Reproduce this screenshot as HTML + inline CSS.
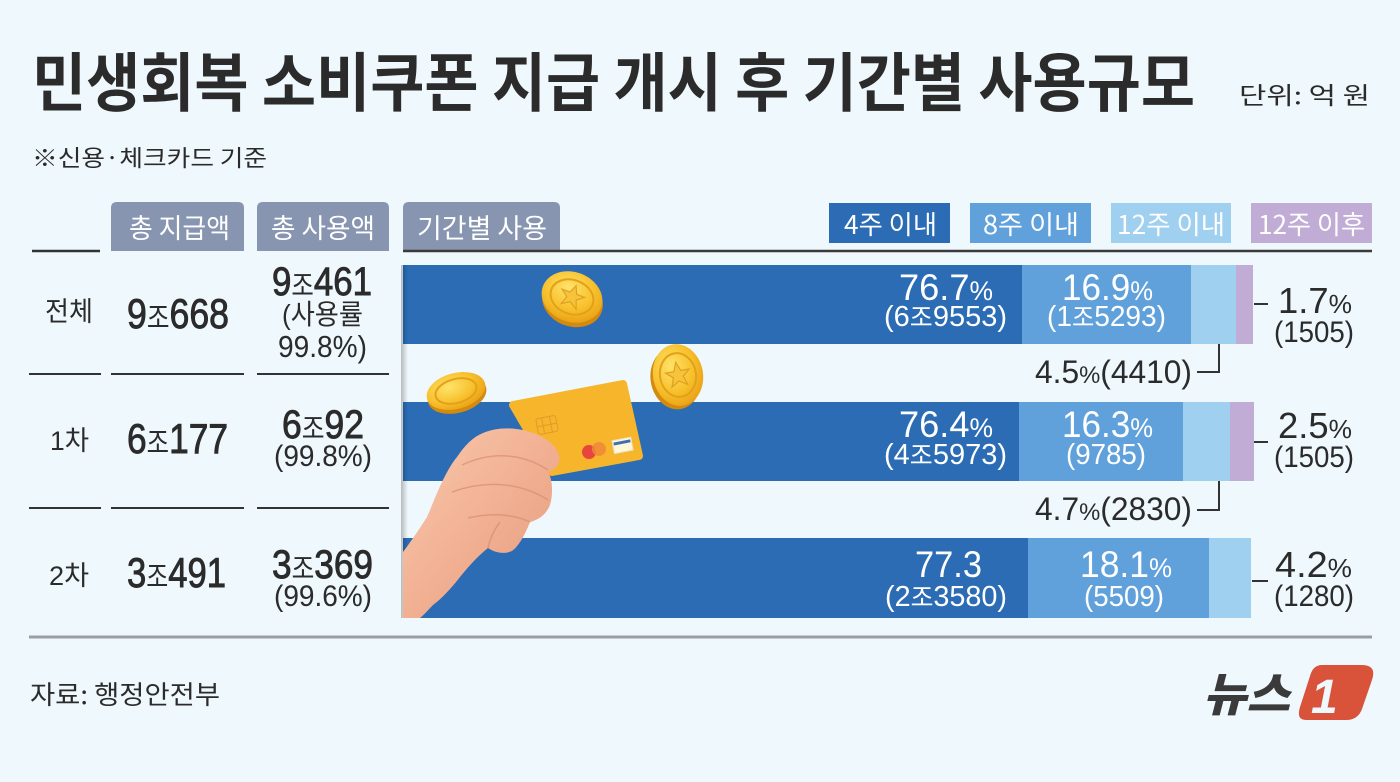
<!DOCTYPE html>
<html><head><meta charset="utf-8">
<style>
html,body{margin:0;padding:0;background:#eff8fd;}
svg{display:block;}
.k{font-family:"Noto Sans CJK KR","Liberation Sans",sans-serif;}
.n{font-family:"Liberation Sans","Noto Sans CJK KR",sans-serif;}
.m{stroke:#2b2b2b;stroke-width:0.9;}
</style></head>
<body>
<svg width="1400" height="782" viewBox="0 0 1400 782" xmlns="http://www.w3.org/2000/svg">
<defs>
<radialGradient id="gold" cx="40%" cy="35%" r="70%">
<stop offset="0" stop-color="#ffe36a"/><stop offset="0.6" stop-color="#f7c02c"/><stop offset="1" stop-color="#e9a014"/>
</radialGradient>
<linearGradient id="skin" x1="0" y1="0" x2="1" y2="1">
<stop offset="0" stop-color="#f8c9ad"/><stop offset="0.5" stop-color="#f2b093"/><stop offset="1" stop-color="#e39a7c"/>
</linearGradient>
<linearGradient id="shadow" x1="0" y1="0" x2="1" y2="0">
<stop offset="0" stop-color="#000" stop-opacity="0.25"/><stop offset="1" stop-color="#000" stop-opacity="0"/>
</linearGradient>
</defs>
<rect width="1400" height="782" fill="#eff8fd"/>

<!-- Title -->
<text class="k" x="32" y="106" font-size="64" font-weight="700" fill="#2b2b2b" textLength="1163" lengthAdjust="spacingAndGlyphs">민생회복 소비쿠폰 지급 개시 후 기간별 사용규모</text>
<text class="k" x="1239" y="104" font-size="24" fill="#2b2b2b" textLength="131" lengthAdjust="spacingAndGlyphs">단위: 억 원</text>
<text class="k" x="32" y="166" font-size="23" fill="#2b2b2b" textLength="235" lengthAdjust="spacingAndGlyphs">※신용·체크카드 기준</text>

<!-- Tabs -->
<path d="M111,251 L111,208 Q111,202 117,202 L238,202 Q244,202 244,208 L244,251 Z" fill="#8795b0"/>
<path d="M257,251 L257,208 Q257,202 263,202 L383,202 Q389,202 389,208 L389,251 Z" fill="#8795b0"/>
<path d="M403,251 L403,208 Q403,202 409,202 L554,202 Q560,202 560,208 L560,251 Z" fill="#8795b0"/>
<text class="k" x="129" y="238" font-size="27" fill="#fff" textLength="101" lengthAdjust="spacingAndGlyphs">총 지급액</text>
<text class="k" x="271" y="238" font-size="27" fill="#fff" textLength="104" lengthAdjust="spacingAndGlyphs">총 사용액</text>
<text class="k" x="417" y="238" font-size="27" fill="#fff" textLength="130" lengthAdjust="spacingAndGlyphs">기간별 사용</text>

<!-- Legend -->
<rect x="829" y="203" width="121" height="40" fill="#2b6cb5"/>
<rect x="970" y="203" width="121" height="40" fill="#60a1db"/>
<rect x="1111" y="203" width="120" height="40" fill="#a0d0f0"/>
<rect x="1251" y="203" width="121" height="40" fill="#c1acd5"/>
<text class="k" x="844" y="234" font-size="26" fill="#fff" textLength="93" lengthAdjust="spacingAndGlyphs">4주 이내</text>
<text class="k" x="983" y="234" font-size="26" fill="#fff" textLength="96" lengthAdjust="spacingAndGlyphs">8주 이내</text>
<text class="k" x="1117" y="234" font-size="26" fill="#fff" textLength="108" lengthAdjust="spacingAndGlyphs">12주 이내</text>
<text class="k" x="1258" y="234" font-size="26" fill="#fff" textLength="107" lengthAdjust="spacingAndGlyphs">12주 이후</text>

<!-- header lines -->
<line x1="32" y1="251" x2="100" y2="251" stroke="#333" stroke-width="2.5"/>
<line x1="403" y1="251" x2="1372" y2="251" stroke="#3a3a3a" stroke-width="2.5"/>

<!-- row separators -->
<g stroke="#333" stroke-width="2">
<line x1="29" y1="374" x2="101" y2="374"/><line x1="111" y1="374" x2="244" y2="374"/><line x1="257" y1="374" x2="389" y2="374"/>
<line x1="29" y1="508" x2="101" y2="508"/><line x1="111" y1="508" x2="244" y2="508"/><line x1="257" y1="508" x2="389" y2="508"/>
</g>
<line x1="29" y1="637" x2="1372" y2="637" stroke="#9a9ea5" stroke-width="3"/>

<!-- Left table -->
<g fill="#2b2b2b">
<text class="k" x="45" y="321" font-size="27" textLength="48" lengthAdjust="spacingAndGlyphs">전체</text>
<text class="n m" x="127" y="328" font-size="42" textLength="102" lengthAdjust="spacingAndGlyphs">9<tspan class="k" font-size="29" stroke-width="0">조</tspan>668</text>
<text class="n m" x="272" y="295" font-size="40" textLength="100" lengthAdjust="spacingAndGlyphs">9<tspan class="k" font-size="28" stroke-width="0">조</tspan>461</text>
<text class="n" x="282" y="324" font-size="28" textLength="81" lengthAdjust="spacingAndGlyphs">(사용률</text>
<text class="n" x="278" y="357" font-size="31" textLength="89" lengthAdjust="spacingAndGlyphs">99.8%)</text>

<text class="n" x="50" y="450" font-size="27" textLength="39" lengthAdjust="spacingAndGlyphs">1차</text>
<text class="n m" x="127" y="453" font-size="42" textLength="101" lengthAdjust="spacingAndGlyphs">6<tspan class="k" font-size="29" stroke-width="0">조</tspan>177</text>
<text class="n m" x="282" y="438" font-size="40" textLength="82" lengthAdjust="spacingAndGlyphs">6<tspan class="k" font-size="28" stroke-width="0">조</tspan>92</text>
<text class="n" x="274" y="466" font-size="30" textLength="98" lengthAdjust="spacingAndGlyphs">(99.8%)</text>

<text class="n" x="49" y="585" font-size="27" textLength="40" lengthAdjust="spacingAndGlyphs">2차</text>
<text class="n m" x="127" y="587" font-size="42" textLength="99" lengthAdjust="spacingAndGlyphs">3<tspan class="k" font-size="29" stroke-width="0">조</tspan>491</text>
<text class="n m" x="272" y="578" font-size="40" textLength="101" lengthAdjust="spacingAndGlyphs">3<tspan class="k" font-size="28" stroke-width="0">조</tspan>369</text>
<text class="n" x="274" y="606" font-size="30" textLength="98" lengthAdjust="spacingAndGlyphs">(99.6%)</text>
</g>

<!-- Bars -->
<rect x="403" y="265" width="619" height="79" fill="#2b6cb5"/>
<rect x="1022" y="265" width="169" height="79" fill="#60a1db"/>
<rect x="1191" y="265" width="45" height="79" fill="#a0d0f0"/>
<rect x="1236" y="265" width="17" height="79" fill="#c1acd5"/>

<rect x="403" y="402" width="616" height="79" fill="#2b6cb5"/>
<rect x="1019" y="402" width="164" height="79" fill="#60a1db"/>
<rect x="1183" y="402" width="47" height="79" fill="#a0d0f0"/>
<rect x="1230" y="402" width="24" height="79" fill="#c1acd5"/>

<rect x="403" y="538" width="625" height="80" fill="#2b6cb5"/>
<rect x="1028" y="538" width="181" height="80" fill="#60a1db"/>
<rect x="1209" y="538" width="42" height="80" fill="#a0d0f0"/>

<rect x="401" y="265" width="7" height="353" fill="url(#shadow)"/>

<!-- Bar labels (white) -->
<g fill="#fff">
<text class="n" x="899" y="300" font-size="37" textLength="94" lengthAdjust="spacingAndGlyphs">76.7<tspan font-size="27">%</tspan></text>
<text class="n" x="884" y="326" font-size="29" textLength="123" lengthAdjust="spacingAndGlyphs">(6<tspan class="k" font-size="25">조</tspan>9553)</text>
<text class="n" x="1062" y="300" font-size="37" textLength="91" lengthAdjust="spacingAndGlyphs">16.9<tspan font-size="27">%</tspan></text>
<text class="n" x="1047" y="326" font-size="29" textLength="119" lengthAdjust="spacingAndGlyphs">(1<tspan class="k" font-size="25">조</tspan>5293)</text>

<text class="n" x="899" y="437" font-size="37" textLength="94" lengthAdjust="spacingAndGlyphs">76.4<tspan font-size="27">%</tspan></text>
<text class="n" x="884" y="464" font-size="29" textLength="123" lengthAdjust="spacingAndGlyphs">(4<tspan class="k" font-size="25">조</tspan>5973)</text>
<text class="n" x="1062" y="437" font-size="37" textLength="91" lengthAdjust="spacingAndGlyphs">16.3<tspan font-size="27">%</tspan></text>
<text class="n" x="1066" y="464" font-size="29" textLength="80" lengthAdjust="spacingAndGlyphs">(9785)</text>

<text class="n" x="915" y="577" font-size="37" textLength="67" lengthAdjust="spacingAndGlyphs">77.3</text>
<text class="n" x="885" y="606" font-size="29" textLength="122" lengthAdjust="spacingAndGlyphs">(2<tspan class="k" font-size="25">조</tspan>3580)</text>
<text class="n" x="1080" y="577" font-size="37" textLength="92" lengthAdjust="spacingAndGlyphs">18.1<tspan font-size="27">%</tspan></text>
<text class="n" x="1084" y="606" font-size="29" textLength="80" lengthAdjust="spacingAndGlyphs">(5509)</text>
</g>

<!-- Right labels (dark) -->
<g fill="#2b2b2b">
<text class="n" x="1278" y="313" font-size="36" textLength="74" lengthAdjust="spacingAndGlyphs">1.7<tspan font-size="26">%</tspan></text>
<text class="n" x="1274" y="342" font-size="30" textLength="80" lengthAdjust="spacingAndGlyphs">(1505)</text>
<text class="n" x="1278" y="438" font-size="36" textLength="74" lengthAdjust="spacingAndGlyphs">2.5<tspan font-size="26">%</tspan></text>
<text class="n" x="1274" y="467" font-size="30" textLength="80" lengthAdjust="spacingAndGlyphs">(1505)</text>
<text class="n" x="1275" y="577" font-size="36" textLength="77" lengthAdjust="spacingAndGlyphs">4.2<tspan font-size="26">%</tspan></text>
<text class="n" x="1274" y="606" font-size="30" textLength="80" lengthAdjust="spacingAndGlyphs">(1280)</text>
<text class="n" x="1035" y="383" font-size="32" textLength="157" lengthAdjust="spacingAndGlyphs">4.5<tspan font-size="24">%</tspan>(4410)</text>
<text class="n" x="1035" y="520" font-size="32" textLength="157" lengthAdjust="spacingAndGlyphs">4.7<tspan font-size="24">%</tspan>(2830)</text>
</g>
<g stroke="#333" stroke-width="2" fill="none">
<line x1="1254" y1="304" x2="1268" y2="304"/>
<line x1="1254" y1="442" x2="1268" y2="442"/>
<line x1="1252" y1="581" x2="1268" y2="581"/>
<polyline points="1197,372 1219,372 1219,344"/>
<polyline points="1197,510 1219,510 1219,481"/>
</g>

<!-- Illustration: coins -->
<g transform="translate(572,297) rotate(20)">
<ellipse cx="2" cy="4" rx="31" ry="25" fill="#d38a0e"/>
<ellipse cx="0" cy="0" rx="31" ry="25" fill="url(#gold)"/>
<ellipse cx="0" cy="0" rx="22" ry="17" fill="none" stroke="#e3a11b" stroke-width="2"/>
<polygon points="0,-12 3.5,-4 12,-4 5,1.5 8,10 0,5 -8,10 -5,1.5 -12,-4 -3.5,-4" fill="#f6c43a" stroke="#e0a020" stroke-width="1.2"/>
</g>
<g transform="translate(678,375) rotate(-10)">
<ellipse cx="-3" cy="3" rx="25" ry="31" fill="#d38a0e"/>
<ellipse cx="0" cy="0" rx="25" ry="31" fill="url(#gold)"/>
<ellipse cx="0" cy="0" rx="18" ry="22" fill="none" stroke="#e3a11b" stroke-width="2"/>
<polygon points="0,-13 3.5,-4 12,-4 5,2 8,11 0,6 -8,11 -5,2 -12,-4 -3.5,-4" fill="#f6c43a" stroke="#e0a020" stroke-width="1.2"/>
</g>
<g transform="translate(456,391) rotate(-15)">
<ellipse cx="0" cy="4" rx="30" ry="18" fill="#d38a0e"/>
<ellipse cx="0" cy="0" rx="30" ry="18" fill="url(#gold)"/>
<ellipse cx="0" cy="0" rx="21" ry="12" fill="none" stroke="#e3a11b" stroke-width="2"/>
</g>

<!-- Card -->
<path d="M513,405 L623,384 L639,456 L552,472 Z" fill="#f7b52c" stroke="#f7b52c" stroke-width="8" stroke-linejoin="round"/>
<g transform="rotate(-11 547 425)" fill="none" stroke="#e09c2a" stroke-width="1">
<rect x="537" y="417" width="20" height="16" rx="2"/>
<line x1="543" y1="417" x2="543" y2="433"/><line x1="551" y1="417" x2="551" y2="433"/><line x1="537" y1="425" x2="557" y2="425"/>
</g>
<circle cx="589" cy="452" r="7" fill="#e8453c"/>
<circle cx="599" cy="449" r="7" fill="#f0883a" opacity="0.85"/>
<rect x="613" y="439" width="19" height="13" fill="#fff7d8" stroke="#e9e4c8" stroke-width="1" transform="rotate(-11 622 445)"/>
<rect x="614" y="441" width="17" height="3" fill="#3d6fb6" transform="rotate(-11 622 445)"/>

<!-- Hand -->
<path d="M403,618 L403,552 C412,540 420,528 427,517 C433,503 438,490 443,480 C448,470 452,463 457,457 C465,445 473,437 483,433 C497,427 515,427 530,432 C543,436 555,443 559,455 C561,463 556,470 548,472 C553,480 553,495 550,505 C546,515 538,520 530,522 C526,532 520,545 512,551 C503,555 494,552 488,548 C478,556 468,567 460,577 C450,590 440,600 433,605 C428,610 424,615 420,618 Z" fill="url(#skin)"/>
<g fill="none" stroke="#d98e70" stroke-width="1.5" opacity="0.7">
<path d="M462,465 C490,452 520,452 548,470"/>
<path d="M452,492 C485,480 520,482 548,500"/>
<path d="M468,518 C495,512 515,515 530,522"/>
<path d="M488,548 C490,538 494,530 500,522"/>
</g>

<!-- Footer -->
<text class="k" x="30" y="704" font-size="26" fill="#2b2b2b" textLength="190" lengthAdjust="spacingAndGlyphs">자료: 행정안전부</text>

<!-- Logo -->
<text class="k" x="1203" y="711" font-size="46" font-weight="900" font-style="italic" fill="#3a3a3a" textLength="87" lengthAdjust="spacingAndGlyphs">뉴스</text>
<path d="M1322,665 L1362,665 Q1377,665 1372,680 L1362,709 Q1358,720 1346,720 L1306,720 Q1296,720 1300,707 L1310,676 Q1313,665 1322,665 Z" fill="#d9533a"/>
<text class="n" x="1311" y="713" font-size="48" font-weight="700" font-style="italic" fill="#eff8fd">1</text>
</svg>
</body></html>
